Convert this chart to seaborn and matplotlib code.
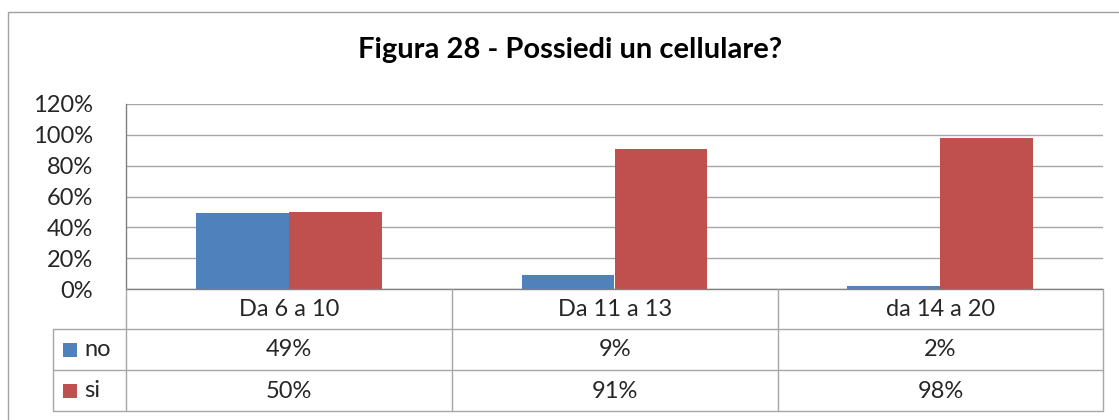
import matplotlib
matplotlib.use("Agg")
import matplotlib.pyplot as plt
import seaborn as sns
import pandas as pd
from matplotlib.lines import Line2D
from matplotlib.patches import Rectangle

# ------------------------------
# DATA
# ------------------------------
categories = ["Da 6 a 10", "Da 11 a 13", "da 14 a 20"]
series_names = ["no", "si"]
no_values = [49, 9, 2]
si_values = [50, 91, 98]
y_ticks = [0, 20, 40, 60, 80, 100, 120]
colors = ["#4F81BD", "#C0504D"]

df = pd.DataFrame({
    "categoria": categories * 2,
    "risposta": ["no"] * 3 + ["si"] * 3,
    "valore": no_values + si_values,
})

# ------------------------------
# FIGURE
# ------------------------------
sns.set_theme(style="white")
plt.rcParams["font.family"] = ["Lato", "DejaVu Sans"]

W, H = 1119, 420
fig = plt.figure(figsize=(W / 100, H / 100), dpi=100)


def fx(x):
    return x / W


def fy(y):
    return 1 - y / H


# plot area in pixel coords
left, right, top, bottom = 126, 1103, 104, 289
ax = fig.add_axes([fx(left), fy(bottom), fx(right - left), (bottom - top) / H])

sns.barplot(data=df, x="categoria", y="valore", hue="risposta",
            palette=colors, width=0.57, saturation=1, ax=ax, legend=False,
            linewidth=0, edgecolor="none")

ax.set_xlim(-0.5, 2.5)
ax.set_ylim(0, 120)
ax.set_yticks(y_ticks)
ax.set_yticklabels([f"{t}%" for t in y_ticks], fontsize=17)
ax.tick_params(axis="y", length=0, pad=24)
ax.set_xticks([])
ax.set_xlabel("")
ax.set_ylabel("")
ax.yaxis.grid(True, color="#A6A6A6", linewidth=1)
ax.set_axisbelow(True)
for s in ["top", "right", "bottom"]:
    ax.spines[s].set_visible(False)
ax.spines["left"].set_color("#808080")
ax.spines["left"].set_linewidth(1)

# title
fig.text(fx(570), fy(50), "Figura 28 - Possiedi un cellulare?", ha="center",
         va="center", fontsize=21, fontweight="bold", color="black")

# ------------------------------
# DATA TABLE
# ------------------------------
line_kw = dict(color="#A6A6A6", linewidth=1)
row_y = [289, 329, 370, 411]
col_x = [126, 452, 778, 1103]
legend_x = 53
fs = 17

fig.add_artist(Line2D([fx(left), fx(right)], [fy(289)] * 2, color="#808080", linewidth=1))
for y in row_y[1:]:
    fig.add_artist(Line2D([fx(legend_x), fx(right)], [fy(y)] * 2, **line_kw))
for x in col_x:
    fig.add_artist(Line2D([fx(x)] * 2, [fy(289), fy(411)], **line_kw))
fig.add_artist(Line2D([fx(legend_x)] * 2, [fy(329), fy(411)], **line_kw))

for i, cat in enumerate(categories):
    cx = (col_x[i] + col_x[i + 1]) / 2
    fig.text(fx(cx), fy(309), cat, ha="center", va="center", fontsize=fs)
    fig.text(fx(cx), fy(350), f"{no_values[i]}%", ha="center", va="center", fontsize=fs)
    fig.text(fx(cx), fy(391), f"{si_values[i]}%", ha="center", va="center", fontsize=fs)

for j, name in enumerate(series_names):
    yc = (row_y[j + 1] + row_y[j + 2]) / 2
    fig.add_artist(Rectangle((fx(63), fy(yc + 7)), fx(14), 14 / H,
                             facecolor=colors[j], edgecolor="none"))
    fig.text(fx(84), fy(yc), name, ha="left", va="center", fontsize=fs)

# outer chart border
fig.add_artist(Rectangle((fx(8), -0.05), 1, fy(12) + 0.05, fill=False,
                         edgecolor="#A0A0A0", linewidth=1))

fig.savefig("out.png", dpi=100)
